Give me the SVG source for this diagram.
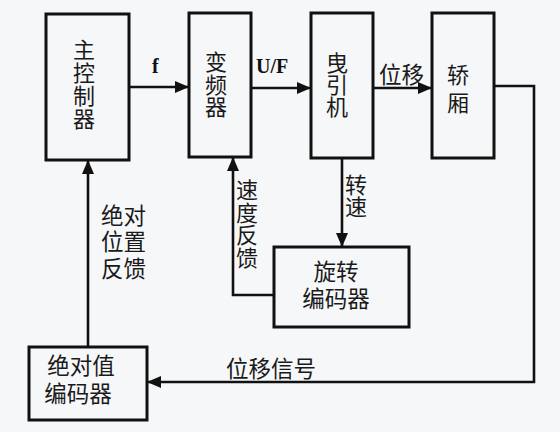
<svg xmlns="http://www.w3.org/2000/svg" width="560" height="432" viewBox="0 0 560 432">
<defs>
<style>
.box{fill:none;stroke:#111;stroke-width:3}
.ln{fill:none;stroke:#111;stroke-width:2.6}
.t{font-family:"Liberation Sans","Noto Sans CJK SC",sans-serif;font-size:22.5px;fill:#1a1a1a}
.v{font-family:"Noto Sans CJK SC",sans-serif;font-size:22px;fill:#1a1a1a;writing-mode:vertical-rl;text-orientation:upright}
.b{font-family:"Liberation Serif",serif;font-size:20px;font-weight:bold;fill:#111}
</style>
<marker id="ah" viewBox="0 0 14 12" refX="14" refY="6" markerWidth="14" markerHeight="12" markerUnits="userSpaceOnUse" orient="auto">
<path d="M0,0 L14,6 L0,12 Z" fill="#111"/>
</marker>
</defs>
<rect width="560" height="432" fill="#f6f7f9"/>
<g id="connectors">
<line class="ln" x1="129" y1="87" x2="189" y2="87" marker-end="url(#ah)"/>
<line class="ln" x1="251" y1="88" x2="311" y2="88" marker-end="url(#ah)"/>
<line class="ln" x1="373" y1="88" x2="432" y2="88" marker-end="url(#ah)"/>
<polyline class="ln" points="494,86 534,86 534,382 147,382" marker-end="url(#ah)"/>
<line class="ln" x1="342" y1="158" x2="342" y2="247" marker-end="url(#ah)"/>
<polyline class="ln" points="274,295 233,295 233,157" marker-end="url(#ah)"/>
<line class="ln" x1="88" y1="347" x2="88" y2="160" marker-end="url(#ah)"/>
<text class="b" x="152" y="73">f</text>
<text class="b" x="256" y="73">U/F</text>
<text class="t" x="379" y="83">位移</text>
<text class="v" x="356" y="174">转速</text>
<text class="v" x="247" y="179" letter-spacing="0.5">速度反馈</text>
<text class="t" x="101" y="224">绝对</text>
<text class="t" x="101" y="250">位置</text>
<text class="t" x="101" y="277">反馈</text>
<text class="t" x="226" y="377">位移信号</text>
</g>
<g id="main-controller">
<rect class="box" x="46" y="14" width="83" height="146"/>
<text class="v" x="84" y="39" letter-spacing="1">主控制器</text>
</g>
<g id="inverter">
<rect class="box" x="189" y="13" width="62" height="144"/>
<text class="v" x="216" y="51" letter-spacing="0.5">变频器</text>
</g>
<g id="traction-machine">
<rect class="box" x="311" y="13" width="62" height="145"/>
<text class="v" x="337" y="52">曳引机</text>
</g>
<g id="car">
<rect class="box" x="432" y="13" width="62" height="145"/>
<text class="v" x="458" y="64" letter-spacing="6">轿厢</text>
</g>
<g id="rotary-encoder">
<rect class="box" x="274" y="247" width="135" height="80"/>
<text class="t" x="336" y="280" text-anchor="middle">旋转</text>
<text class="t" x="336" y="307" text-anchor="middle">编码器</text>
</g>
<g id="absolute-encoder">
<rect class="box" x="29" y="347" width="118" height="73"/>
<text class="t" x="81" y="374" text-anchor="middle">绝对值</text>
<text class="t" x="78" y="402" text-anchor="middle">编码器</text>
</g>
</svg>
